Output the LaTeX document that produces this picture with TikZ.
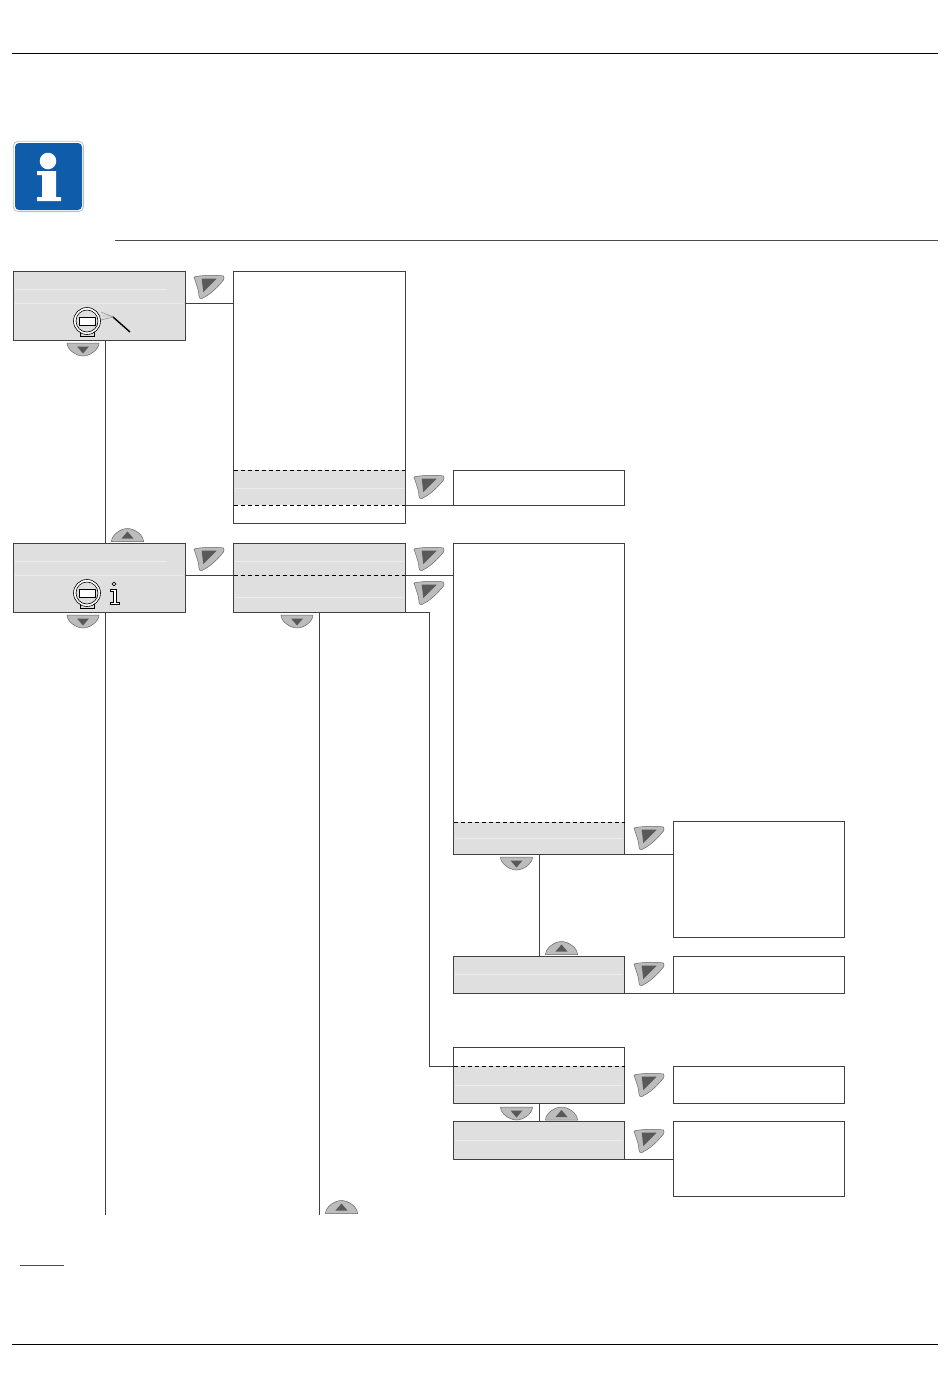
\documentclass[tikz,border=0pt]{standalone}
\usepackage{tikz}
\definecolor{panelgray}{HTML}{DFDFDF}
\definecolor{keygray}{HTML}{BCBCBC}
\definecolor{keydark}{HTML}{5A5858}
\definecolor{infoblue}{HTML}{0F5CAB}
\tikzset{
    wire/.style={draw=black!75, line width=0.9pt},
    seam/.style={draw=black, line width=0.9pt, dash pattern=on 4.5pt off 2.5pt},
    glint/.style={draw=white!40!panelgray, line width=0.7pt},
    rule/.style={draw=black, line width=1pt},
    menubox/.style={draw=black!75, line width=0.9pt, fill=white, anchor=north west, inner sep=0pt, outer sep=0pt},
    graybox/.style={menubox, fill=panelgray},
    grayband/.style={fill=panelgray, anchor=north west, inner sep=0pt, outer sep=0pt},
    keyright/.pic={
        \draw[fill=keygray, draw=black!60, line width=0.5pt] (-15,-10) .. controls (-8,-12) and (8,-12) .. (14.5,-11)
            .. controls (16,-8) and (14,-6) .. (12,-4) .. controls (6,3) and (0,8) .. (-7,11.5)
            .. controls (-9,12) and (-10,11) .. (-10,9) .. controls (-10,3) and (-13,-3) .. (-15,-10) -- cycle;
        \fill[keydark] (-7.3,-8.3) -- (7.7,-8.3) -- (-5.7,5) -- cycle;
    },
    keydown/.pic={
        \draw[fill=keygray, draw=black!60, line width=0.5pt] (-16,-6.5) -- (16,-6.5) .. controls (16,0) and (7,6.5) .. (0,6.5)
            .. controls (-7,6.5) and (-16,0) .. (-16,-6.5) -- cycle;
        \fill[keydark] (-6,-3) -- (6,-3) -- (0,4) -- cycle;
    },
    keyup/.pic={
        \draw[fill=keygray, draw=black!60, line width=0.5pt] (-16,6.5) -- (16,6.5) .. controls (16,0) and (7,-6.5) .. (0,-6.5)
            .. controls (-7,-6.5) and (-16,0) .. (-16,6.5) -- cycle;
        \fill[keydark] (-6,3.5) -- (6,3.5) -- (0,-3.5) -- cycle;
    },
    meter/.pic={
        \draw[black, line width=0.6pt, fill=panelgray] (-7,11) rectangle (7,15);
        \draw[black, line width=0.6pt, fill=white] (0,0) circle (13.5);
        \draw[black, line width=0.6pt, fill=panelgray] (0,0) circle (11);
        \draw[black, line width=0.8pt, fill=white] (-8,-4) rectangle (8,4);
    },
}
\begin{document}
\begin{tikzpicture}[x=1pt, y=-1pt]
    %% page frame with the rules
    \useasboundingbox (0,0) rectangle (950,1398);
    \draw[rule] (12,53) -- (938,53);
    \draw[draw=black!70, line width=0.8pt] (115,240) -- (938,240);
    \draw[draw=black!70, line width=1pt] (20,1265) -- (64,1265);
    \draw[rule] (12,1344) -- (938,1344);

    %% info sign
    \draw[fill=white, draw=black!25, line width=0.8pt, rounded corners=5pt] (13.2,141.2) rectangle (83.6,211.6);
    \fill[infoblue, rounded corners=4pt] (15,143) rectangle (82,210);
    \fill[white] (48,161) circle (8.3);
    \fill[white] (37,171) -- (56,171) -- (56,197) -- (61,197) -- (61,201) -- (37,201) -- (37,197) -- (42,197) -- (42,175) -- (37,175) -- cycle;

    %% the menu boxes
    \node[graybox, minimum width=171.5pt, minimum height=69pt] (setup) at (13.5,271) {};
    \node[menubox, minimum width=171.5pt, minimum height=252pt] (setuplist) at (233.5,271) {};
    \node[grayband, minimum width=171.5pt, minimum height=35pt] (setupband) at (233.5,470) {};
    \node[menubox, minimum width=171pt, minimum height=35pt] (setupval) at (453.5,470) {};
    \node[graybox, minimum width=171.5pt, minimum height=68.5pt] (info) at (13.5,543.5) {};
    \node[graybox, minimum width=171.5pt, minimum height=68.5pt] (infomenu) at (233.5,543.5) {};
    \node[menubox, minimum width=171pt, minimum height=310.5pt] (infolist) at (453.5,543.5) {};
    \node[grayband, minimum width=171pt, minimum height=32pt] (infoband) at (453.5,822) {};
    \node[menubox, minimum width=171pt, minimum height=115.5pt] (detail) at (673.5,821.5) {};
    \node[graybox, minimum width=171pt, minimum height=37pt] (status) at (453.5,956) {};
    \node[menubox, minimum width=171pt, minimum height=37pt] (statusval) at (673.5,956) {};
    \node[menubox, minimum width=171pt, minimum height=55.5pt] (lower) at (453.5,1047.5) {};
    \node[grayband, minimum width=171pt, minimum height=37pt] (lowerband) at (453.5,1066) {};
    \node[menubox, minimum width=171pt, minimum height=37pt] (lowerval) at (673.5,1066) {};
    \node[graybox, minimum width=171pt, minimum height=37.5pt] (last) at (453.5,1121.5) {};
    \node[menubox, minimum width=171pt, minimum height=74.5pt] (lastval) at (673.5,1121.5) {};

    %% pale lines inside the gray boxes
    \draw[glint] (15,289) -- (167,289);
    \draw[glint] (15,303) -- (184,303);
    \draw[glint] (15,561) -- (167,561);
    \draw[glint] (15,575) -- (184,575);
    \draw[glint] (235,561) -- (404,561);
    \draw[glint] (235,597) -- (404,597);
    \draw[glint] (235,488) -- (404,488);
    \draw[glint] (455,838) -- (623,838);
    \draw[glint] (455,974) -- (623,974);
    \draw[glint] (455,1085) -- (623,1085);
    \draw[glint] (455,1140) -- (623,1140);

    %% edges redrawn over the bands
    \draw[wire] (setuplist.north west) -- (setuplist.south west) -- (setuplist.south east) -- (setuplist.north east);
    \draw[wire] (infolist.south west) -- (infolist.north west) (infolist.north east) -- (infolist.south east) -- (infolist.south west);
    \draw[wire] (lower.north west) -- (lower.south west) -- (lower.south east) -- (lower.north east);

    %% dashed separators
    \draw[seam] (setupband.north west) -- (setupband.north east);
    \draw[seam] (setupband.south west) -- (setupband.south east);
    \draw[seam] (infoband.north west) -- (infoband.north east);
    \draw[seam] (lowerband.north west) -- (lowerband.north east);
    \coordinate (midleft) at (233.5,575);
    \coordinate (midright) at (405,575);
    \draw[seam] (midleft) -- (midright);

    %% connectors
    \coordinate (setupout) at (105,340);
    \coordinate (setupjoin) at (185,303);
    \coordinate (infojoin) at (185,575);
    \coordinate (infodown) at (105,1214.5);
    \coordinate (menudown) at (319.5,1214.5);
    \coordinate (menubend) at (429.5,612);
    \coordinate (statusout) at (539.5,854);
    \coordinate (lowerout) at (539.5,1103);
    \draw[wire] (setupjoin) -- (setupjoin -| setuplist.west);
    \draw[wire] (setupout) -- (setupout |- info.north);
    \draw[wire] (setupout |- info.south) -- (infodown);
    \draw[wire] (infojoin) -- (midleft);
    \draw[wire] (midright) -- (midright -| infolist.west);
    \draw[wire] (setupband.south east) -- (setupband.south -| setupval.west);
    \draw[wire] (menudown |- infomenu.south) -- (menudown);
    \draw[wire] (infomenu.south east) -- (menubend) -- (menubend |- lowerband.north) -- (lowerband.north west);
    \draw[wire] (infolist.south east) -- (infolist.south east -| detail.west);
    \draw[wire] (statusout) -- (statusout |- status.north);
    \draw[wire] (status.south east) -- (status.south east -| statusval.west);
    \draw[wire] (lowerout) -- (lowerout |- last.north);
    \draw[wire] (last.south east) -- (last.south east -| lastval.west);

    %% the keys
    \pic at (209,287) {keyright};
    \pic at (209,559) {keyright};
    \pic at (429,487) {keyright};
    \pic at (429,559) {keyright};
    \pic at (429,593) {keyright};
    \pic at (649,838) {keyright};
    \pic at (649,974) {keyright};
    \pic at (649,1085) {keyright};
    \pic at (649,1141) {keyright};
    \pic at (83,349.5) {keydown};
    \pic at (83,621.5) {keydown};
    \pic at (297,621.5) {keydown};
    \pic at (516.5,863.5) {keydown};
    \pic at (516.5,1113.5) {keydown};
    \pic at (127.5,535) {keyup};
    \pic at (561.5,948) {keyup};
    \pic at (561.5,1113.5) {keyup};
    \pic at (341.5,1207) {keyup};

    %% symbols in the two main boxes
    \pic at (87,321) {meter};
    \pic at (87,593) {meter};
    \draw[black, line width=1.4pt] (113,317) -- (130,332);
    \draw[black!50, line width=0.4pt] (113,317) -- (101,312) (113,317) -- (101,320) (113,316) -- (102,316);
    \draw[black, line width=0.6pt, fill=white] (114,584) circle (1.9);
    \draw[black, line width=0.7pt, fill=white] (110.5,589) -- (116.5,589) -- (116.5,602) -- (119,602) -- (119,604.5) -- (110.5,604.5) -- (110.5,602) -- (113,602) -- (113,591.5) -- (110.5,591.5) -- cycle;
\end{tikzpicture}
\end{document}
